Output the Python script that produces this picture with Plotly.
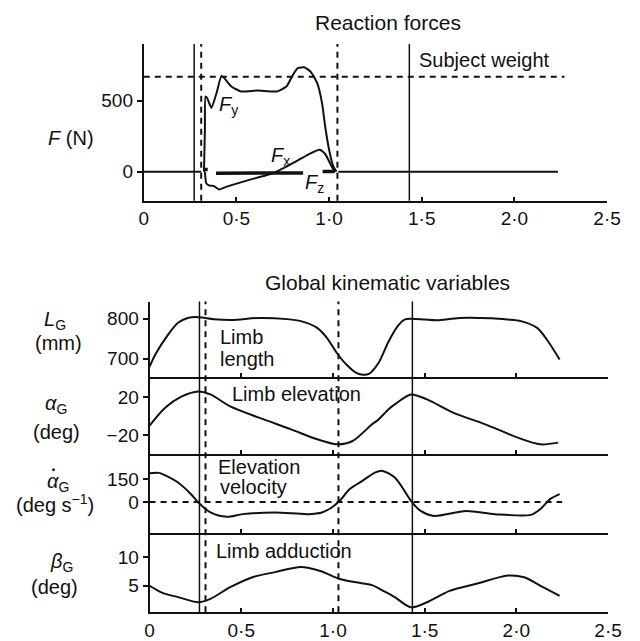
import plotly.graph_objects as go

# ---------------- data ----------------
X_TICKS = [0, 0.5, 1.0, 1.5, 2.0, 2.5]
X_TICK_TEXT = ["0", "0·5", "1·0", "1·5", "2·0", "2·5"]

# event times (s): solid = foot contact, dashed = other foot events
EVENTS_SOLID = [0.272, 1.433]
EVENTS_DASHED_FORCE = [0.31, 1.045]
EVENTS_DASHED_KIN = [0.305, 1.03]

SUBJECT_WEIGHT = 670
T_WEIGHT = [0.0, 2.27]

T_BASE = [0.0, 0.31, None, 1.05, 2.235]
F_BASE = [0, 0, None, 0, 0]

T_FY = [0.325, 0.330, 0.333, 0.342, 0.365, 0.394, 0.420, 0.473, 0.525, 0.613,
        0.717, 0.770, 0.805, 0.831, 0.866, 0.900, 0.936, 0.962, 0.979, 1.000,
        1.023, 1.040]
FY = [0, 300, 530, 520, 450, 560, 676, 601, 566, 573,
      566, 601, 683, 730, 737, 706, 624, 484, 319, 155,
      37, 0]

T_FX = [0.330, 0.337, 0.351, 0.377, 0.407, 0.438, 0.560, 0.708, 0.822, 0.900,
        0.950, 0.979, 1.014, 1.031]
FX = [0, -80, -96, -100, -125, -110, -61, -5, 73, 130,
      155, 125, 37, 0]

T_FZ = [0.33, 0.345, None, 0.39, 0.86, None, 0.965, 1.03]
FZ = [15, 15, None, -10, -8, None, 2, 2]

T_L = [0, 0.032, 0.102, 0.155, 0.208, 0.266, 0.35, 0.45, 0.6, 0.75,
       0.825, 0.914, 0.967, 1.02, 1.072, 1.125, 1.16, 1.196, 1.249, 1.302,
       1.354, 1.39, 1.425, 1.5, 1.566, 1.69, 1.866, 1.95, 2.025, 2.113,
       2.166, 2.236]
L = [680, 711, 761, 790, 802, 804, 799, 797, 802, 799,
     794, 777, 752, 715, 686, 665, 660, 662, 690, 742,
     782, 798, 800, 798, 796, 802, 801, 798, 794, 777,
     748, 698]

T_A = [0, 0.085, 0.173, 0.266, 0.332, 0.437, 0.596, 0.772, 0.914, 1.02,
       1.107, 1.213, 1.249, 1.302, 1.337, 1.425, 1.513, 1.655, 1.831, 2.007,
       2.13, 2.228]
A = [-10, 8.8, 20.5, 26, 22.8, 10.5, -1.7, -14, -24.5, -29.8,
     -26.3, -8.7, -3.5, 7, 12.3, 22.8, 17.6, 3.6, -8.7, -22.7,
     -29.8, -28]

T_V = [0, 0.05, 0.067, 0.155, 0.226, 0.266, 0.332, 0.42, 0.508, 0.684,
       0.861, 0.94, 0.993, 1.037, 1.09, 1.16, 1.231, 1.27, 1.337, 1.39,
       1.425, 1.478, 1.549, 1.725, 1.884, 2.078, 2.13, 2.184, 2.236]
V = [190, 192, 185, 128, 51, -4, -70, -99, -81, -70,
     -81, -70, -37, 7, 84, 139, 195, 205, 161, 73,
     7, -60, -93, -60, -81, -86, -48, 18, 51]
T_VZERO = [0.0, 2.25]

T_B = [0, 0.067, 0.155, 0.266, 0.332, 0.437, 0.561, 0.684, 0.825, 0.931,
       1.037, 1.125, 1.213, 1.28, 1.337, 1.425, 1.513, 1.636, 1.778, 1.954,
       2.042, 2.148, 2.236]
B = [5.0, 3.8, 3.0, 2.1, 2.7, 4.7, 6.5, 7.4, 8.3, 7.6,
     6.2, 5.6, 5.1, 4.0, 3.0, 1.2, 2.1, 4.1, 5.3, 6.8,
     6.5, 4.7, 3.2]

# ---------------- layout helpers ----------------
W, H = 640, 641
def px(x): return x / W
def py(y): return 1 - y / H

FONT = "Liberation Sans, Arial, Helvetica, sans-serif"
INK = "#111111"
FS = 20
FS_TICK = 19

DOM_TOP_X = [px(143), px(620.5)]
DOM_TOP_Y = [py(201), py(44)]
DOM_LOW_X = [px(149), px(621.5)]
DOM_L = [py(377.3), py(302)]
DOM_A = [py(455), py(377.3)]
DOM_V = [py(534.3), py(455)]
DOM_B = [py(613.3), py(534.3)]

fig = go.Figure()

def line_trace(x, y, xa, ya, width=2, dash="solid", shape="spline", smooth=0.7):
    kw = dict(color=INK, width=width, dash=dash)
    if shape == "spline":
        kw.update(shape="spline", smoothing=smooth)
    fig.add_trace(go.Scatter(x=x, y=y, xaxis=xa, yaxis=ya, mode="lines",
                             line=kw, showlegend=False, hoverinfo="skip",
                             connectgaps=False))

# top panel
line_trace(T_WEIGHT, [SUBJECT_WEIGHT, SUBJECT_WEIGHT], "x", "y", width=2, dash="6px,5px", shape="linear")
line_trace(T_BASE, F_BASE, "x", "y", width=2, shape="linear")
line_trace(T_FY, FY, "x", "y", width=2, smooth=0.5)
line_trace(T_FX, FX, "x", "y", width=2, smooth=0.5)
line_trace(T_FZ, FZ, "x", "y", width=3.5, shape="linear")

# lower panels
line_trace(T_L, L, "x2", "y2", smooth=0.8)
line_trace(T_A, A, "x3", "y3", smooth=0.8)
line_trace(T_VZERO, [0, 0], "x4", "y4", width=2, dash="6px,5px", shape="linear")
line_trace(T_V, V, "x4", "y4", smooth=0.8)
line_trace(T_B, B, "x5", "y5", smooth=0.8)

def xaxis(domain, anchor, labels):
    return dict(domain=domain, anchor=anchor, range=[0, 2.5], showline=True,
                linewidth=2, linecolor=INK, ticks="inside", ticklen=4,
                tickwidth=1.5, tickcolor=INK, tickvals=X_TICKS,
                ticktext=X_TICK_TEXT, showticklabels=labels, showgrid=False,
                zeroline=False, tickfont=dict(family=FONT, size=FS_TICK, color=INK),
                fixedrange=True)

def yaxis(domain, anchor, rng, vals, text):
    return dict(domain=domain, anchor=anchor, range=rng, showline=True,
                linewidth=2, linecolor=INK, ticks="outside", ticklen=5,
                tickwidth=1.5, tickcolor=INK, tickvals=vals, ticktext=text,
                showgrid=False, zeroline=False,
                tickfont=dict(family=FONT, size=FS_TICK, color=INK), fixedrange=True)

layout = dict(
    width=W, height=H, margin=dict(l=0, r=0, t=0, b=0),
    paper_bgcolor="white", plot_bgcolor="white", showlegend=False,
    xaxis=xaxis(DOM_TOP_X, "y", True),
    yaxis=yaxis(DOM_TOP_Y, "x", [-204, 901], [0, 500], ["0", "500"]),
    xaxis2=xaxis(DOM_LOW_X, "y2", False),
    yaxis2=yaxis(DOM_L, "x2", [655, 843], [700, 800], ["700", "800"]),
    xaxis3=xaxis(DOM_LOW_X, "y3", False),
    yaxis3=yaxis(DOM_A, "x3", [-40.3, 41.5], [-20, 20], ["−20", "20"]),
    xaxis4=xaxis(DOM_LOW_X, "y4", False),
    yaxis4=yaxis(DOM_V, "x4", [-209, 315], [0, 150], ["0", "150"]),
    xaxis5=xaxis(DOM_LOW_X, "y5", True),
    yaxis5=yaxis(DOM_B, "x5", [0.32, 14.2], [5, 10], ["5", "10"]),
)
fig.update_layout(**layout)

# event lines
shapes = []
for t in EVENTS_SOLID:
    shapes.append(dict(type="line", xref="x", yref="y domain", x0=t, x1=t, y0=0, y1=1,
                       line=dict(color=INK, width=1.5)))
    shapes.append(dict(type="line", xref="x5", yref="paper", x0=t, x1=t,
                       y0=DOM_B[0], y1=DOM_L[1], line=dict(color=INK, width=1.5)))
for t in EVENTS_DASHED_FORCE:
    shapes.append(dict(type="line", xref="x", yref="y domain", x0=t, x1=t, y0=0, y1=1,
                       line=dict(color=INK, width=2, dash="6px,5px")))
for t in EVENTS_DASHED_KIN:
    shapes.append(dict(type="line", xref="x5", yref="paper", x0=t, x1=t,
                       y0=DOM_B[0], y1=DOM_L[1], line=dict(color=INK, width=2, dash="6px,5px")))
# overdot of the alpha in the elevation-velocity label
shapes.append(dict(type="circle", xref="paper", yref="paper",
                   x0=px(48.5), x1=px(51.5), y0=py(472), y1=py(469),
                   fillcolor=INK, line=dict(width=0)))
fig.update_layout(shapes=shapes)

def text(s, X, Y, anchor="center", size=FS):
    fig.add_annotation(text=s, xref="paper", yref="paper", x=px(X), y=py(Y),
                       xanchor=anchor, yanchor="middle", showarrow=False,
                       font=dict(family=FONT, size=size, color=INK))

text("Reaction forces", 395, 23, size=21)
text("Subject weight", 425, 60, "left")
text("<i>F</i> (N)", 68, 138)
text("<i>F</i><sub>y</sub>", 230, 106)
text("<i>F</i><sub>x</sub>", 284, 157)
text("<i>F</i><sub>z</sub>", 319, 184)
text("Global kinematic variables", 394, 283, size=21)
text("Limb", 220, 338, "left")
text("length", 220, 360, "left")
text("Limb elevation", 232, 395, "left")
text("Elevation", 217, 468, "left")
text("velocity", 220, 488, "left")
text("Limb adduction", 215, 552, "left")

text("<i>L</i><sub>G</sub>", 52, 321)
text("(mm)", 55, 344)
text("<i>α</i><sub>G</sub>", 53, 405)
text("(deg)", 53, 433)
text("<i>α</i><sub>G</sub>", 55, 483)
text("(deg s<sup>−1</sup>)", 52, 504)
text("<i>β</i><sub>G</sub>", 58, 563)
text("(deg)", 51, 588)

fig.write_html("out.html")
